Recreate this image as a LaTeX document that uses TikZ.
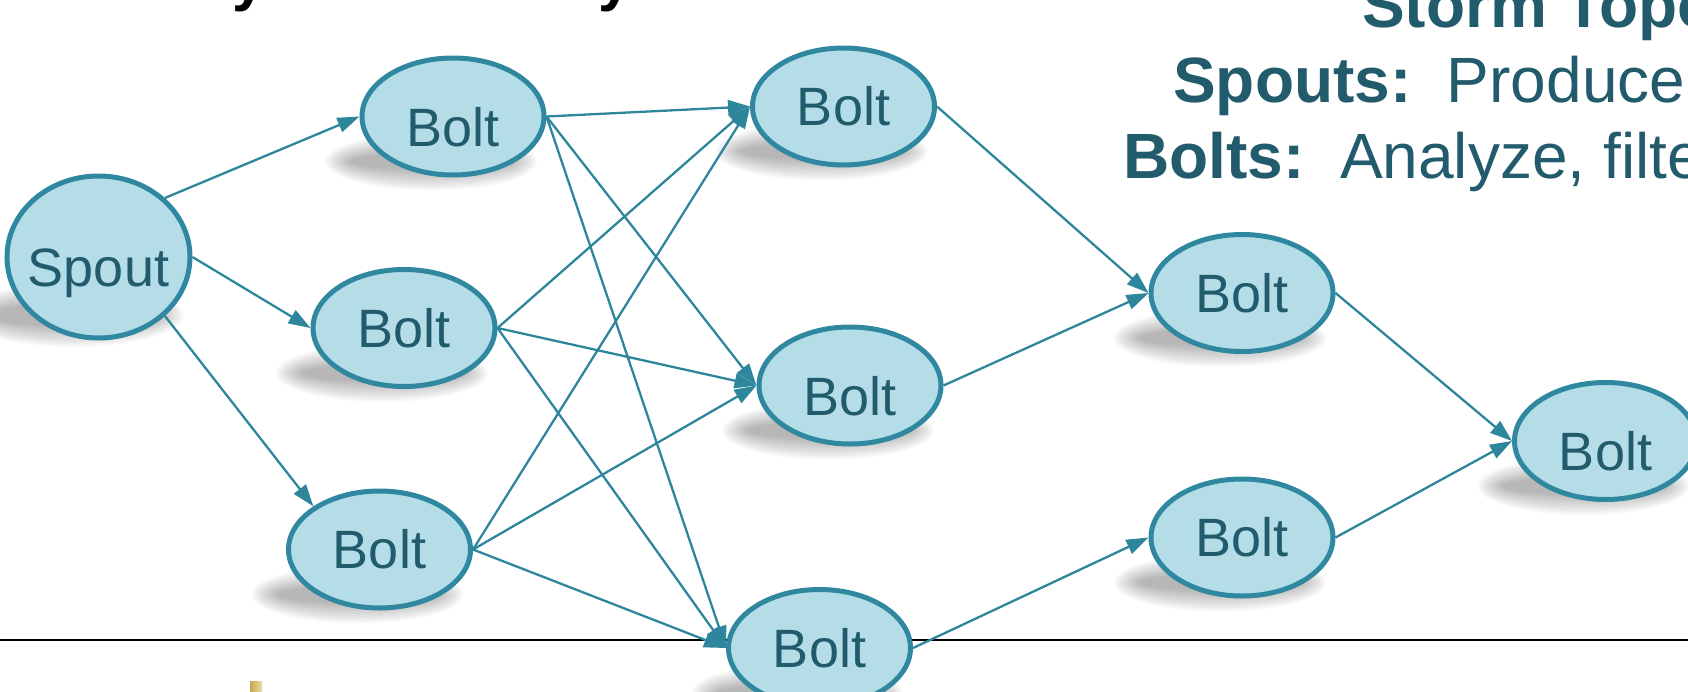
\documentclass[tikz,border=0pt]{standalone}
\usepackage{fontspec}
\setmainfont{Liberation Sans}
\usetikzlibrary{arrows.meta,shapes.geometric}
\definecolor{nodefill}{HTML}{B5DDE8}
\definecolor{nodeline}{HTML}{2F88A0}
\definecolor{txt}{HTML}{225B6B}
\definecolor{edgecol}{HTML}{2E869D}
\definecolor{goldA}{HTML}{C9A94F}
\definecolor{goldB}{HTML}{EADDA6}
\pgfdeclarelayer{bg}
\pgfsetlayers{bg,main}
\newcommand\nodeshadow[5]{%
  \foreach \k in {0,...,13}{%
    \fill[black, opacity=0.024] ([xshift=#2pt,yshift=-#3pt]#1.center) ellipse ({#4pt-\k*2pt} and {#5pt-\k*1.6pt});
  }%
}
\begin{document}
\begin{tikzpicture}[x=1pt,y=-1pt,
  stormnode/.style={ellipse, draw=nodeline, fill=nodefill, line width=5pt,
    minimum width=182pt, minimum height=117pt, inner sep=0pt, text=txt,
    font=\fontsize{54}{60}\selectfont},
  lowtext/.style={text height=59pt, text depth=0pt},
  flow/.style={draw=edgecol, line width=2.3pt, -{Triangle[length=22pt,width=15pt]}},
  heading/.style={anchor=base west, inner sep=0pt, text=txt, font=\fontsize{64}{70}\selectfont},
  titlebit/.style={anchor=base west, inner sep=0pt, text=black, font=\fontsize{60}{66}\selectfont\bfseries},
]
\useasboundingbox (0,0) rectangle (1688,691);
\clip (0,0) rectangle (1688,691);

% nodes
\node[stormnode, lowtext, minimum width=183pt, minimum height=162pt] (sp) at (98.5,257) {\makebox[0pt]{Spout}};
\node[stormnode, lowtext] (a) at (453,116.5) {Bolt};
\node[stormnode] (b) at (404,328) {Bolt};
\node[stormnode] (c) at (379.5,549.5) {Bolt};
\node[stormnode] (d) at (843.5,106.5) {Bolt};
\node[stormnode, lowtext] (e) at (850,385.5) {Bolt};
\node[stormnode] (f) at (819.5,648) {Bolt};
\node[stormnode] (g) at (1242,293) {Bolt};
\node[stormnode] (h) at (1242,537.5) {Bolt};
\node[stormnode, lowtext] (i) at (1605.5,441) {Bolt};

% shadows and rule line behind
\begin{pgfonlayer}{bg}
  \nodeshadow{sp}{-25}{58}{110}{32}
  \foreach \n in {a,b,c,d,e,f,g,h,i}{\nodeshadow{\n}{-22}{45}{106}{29}}
  \draw[black, line width=2pt] (0,640) -- (1688,640);
\end{pgfonlayer}

% connectors
\draw[flow] (sp.north east) -- (a.west);
\draw[flow] (sp.east) -- (b.west);
\draw[flow] (sp.south east) -- (c.north west);
\foreach \s in {a,b,c}{
  \foreach \t in {d,e,f}{
    \draw[flow] (\s.east) -- (\t.west);
  }
}
\draw[flow] (d.east) -- (g.west);
\draw[flow] (e.east) -- (g.west);
\draw[flow] (f.east) -- (h.west);
\draw[flow] (g.east) -- (i.west);
\draw[flow] (h.east) -- (i.west);

% texts cut by the frame
\node[titlebit] (t1) at (232,-1) {y};
\node[titlebit] (t2) at (598,-1) {y};
\node[heading, font=\fontsize{64}{70}\selectfont\bfseries] (title) at (1362,27) {Storm Topo};
\node[heading] (spouts) at (1173,102) {\textbf{Spouts:}~~Produce};
\node[heading] (bolts) at (1123,178) {\textbf{Bolts:}~~Analyze, filte};

% small picture fragment at the bottom
\shade[left color=goldA, right color=goldB] (250,681) rectangle (262,691);
\end{tikzpicture}
\end{document}
